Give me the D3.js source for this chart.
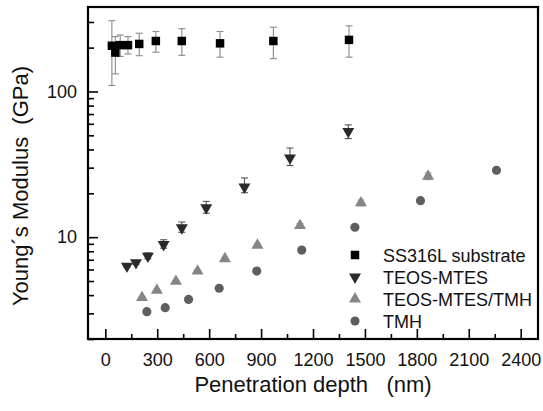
<!DOCTYPE html>
<html><head><meta charset="utf-8">
<script src="https://cdn.jsdelivr.net/npm/d3@7"></script>
<style>body{margin:0;background:#fff}svg{display:block;font-family:"Liberation Sans",Arial,sans-serif}</style>
</head><body><svg id="c" width="543" height="411"></svg>
<script>
// Data
const ssDepth = [38, 58, 86, 131, 196, 292, 442, 663, 971, 1408];
const ssMod   = [206, 185, 208, 208, 212, 222, 222, 214, 222, 226];
const ssHi    = [306, 238, 244, 238, 251, 258, 270, 258, 276, 282];
const ssLo    = [110, 132, 174, 181, 176, 186, 177, 172, 168, 172];

const tmDepth = [125, 177, 246, 337, 442, 583, 804, 1067, 1404];
const tmMod   = [6.33, 6.68, 7.41, 8.91, 11.6, 15.9, 22.1, 35.0, 53.2];
const tmHi    = [6.5, 6.9, 7.8, 9.6, 12.7, 17.6, 25.5, 40.9, 59.0];
const tmLo    = [6.2, 6.5, 7.1, 8.4, 10.8, 14.6, 20.2, 31.0, 47.5];

const ttDepth = [212, 298, 408, 533, 691, 879, 1125, 1477, 1865];
const ttMod   = [3.85, 4.32, 4.97, 5.85, 7.11, 8.81, 12.0, 17.2, 26.2];
const ttHi    = [3.9, 4.4, 5.05, 5.95, 7.25, 9.0, 12.4, 18.0, 27.6];
const ttLo    = [3.75, 4.2, 4.85, 5.7, 6.95, 8.6, 11.6, 16.4, 24.8];

const tmhDepth = [240, 346, 481, 658, 875, 1135, 1442, 1821, 2260];
const tmhMod   = [3.08, 3.28, 3.74, 4.46, 5.85, 8.15, 11.7, 17.8, 28.8];

const xTicks = [0, 300, 600, 900, 1200, 1500, 1800, 2100, 2400];
const xMinor = [150, 450, 750, 1050, 1350, 1650, 1950, 2250];
const yTicks = [10, 100];
const yMinor = [2,3,4,5,6,7,8,9,20,30,40,50,60,70,80,90,200,300];
const legendLabels = ["SS316L substrate", "TEOS-MTES", "TEOS-MTES/TMH", "TMH"];

const L = 88, T = 7, R = 538, B = 339;
const svg = d3.select("#c");
const x = d3.scaleLinear().domain([-100, 2500]).range([L, R]);
const y = d3.scaleLog().domain([2, 380]).range([B, T]);

const fmt = d => String(d);
// X axis (ticks inward)
svg.append("g").attr("transform", `translate(0,${B})`)
  .call(d3.axisTop(x).tickValues(xMinor).tickSize(5).tickFormat(""))
  .call(g => g.select(".domain").remove())
  .selectAll("line").attr("stroke", "#000").attr("stroke-width", 1.6);
const gx = svg.append("g").attr("transform", `translate(0,${B})`)
  .call(d3.axisTop(x).tickValues(xTicks).tickSize(10).tickFormat(fmt));
gx.select(".domain").remove();
gx.selectAll("line").attr("stroke", "#000").attr("stroke-width", 1.6);
gx.selectAll("text").attr("y", 27).attr("dy", 0).attr("font-size", 18)
  .attr("fill", "#111").attr("font-family", "Liberation Sans, Arial, sans-serif");

// Y axis (ticks inward)
svg.append("g").attr("transform", `translate(${L},0)`)
  .call(d3.axisRight(y).tickValues(yMinor).tickSize(6).tickFormat(""))
  .call(g => g.select(".domain").remove())
  .selectAll("line").attr("stroke", "#000").attr("stroke-width", 1.6);
const gy = svg.append("g").attr("transform", `translate(${L},0)`)
  .call(d3.axisRight(y).tickValues(yTicks).tickSize(10).tickFormat(fmt));
gy.select(".domain").remove();
gy.selectAll("line").attr("stroke", "#000").attr("stroke-width", 1.6);
gy.selectAll("text").attr("x", -11).attr("text-anchor", "end").attr("font-size", 18)
  .attr("fill", "#111").attr("font-family", "Liberation Sans, Arial, sans-serif");

// Frame
svg.append("rect").attr("x", L).attr("y", T).attr("width", R - L).attr("height", B - T)
  .attr("fill", "none").attr("stroke", "#000").attr("stroke-width", 2.2);

// Error bars
function errBars(depth, hi, lo, col) {
  const g = svg.append("g").attr("stroke", col).attr("stroke-width", 1.1).attr("fill", "none");
  depth.forEach((d, i) => {
    const cx = x(d);
    g.append("line").attr("x1", cx).attr("x2", cx).attr("y1", y(hi[i])).attr("y2", y(lo[i]));
    g.append("line").attr("x1", cx - 3.5).attr("x2", cx + 3.5).attr("y1", y(hi[i])).attr("y2", y(hi[i]));
    g.append("line").attr("x1", cx - 3.5).attr("x2", cx + 3.5).attr("y1", y(lo[i])).attr("y2", y(lo[i]));
  });
}
errBars(ssDepth, ssHi, ssLo, "#8a8a8a");
errBars(tmDepth, tmHi, tmLo, "#555");
errBars(ttDepth, ttHi, ttLo, "#aaa");

const sq = d3.symbol().type(d3.symbolSquare).size(72);
const tri = d3.symbol().type(d3.symbolTriangle).size(62);
const circ = d3.symbol().type(d3.symbolCircle).size(66);

const colSS = "#000", colTM = "#2a2a2a", colTT = "#858585", colTMH = "#5e5e5e";

function pts(depth, mod, sym, col, rot) {
  svg.append("g").selectAll("path").data(depth).join("path")
    .attr("d", sym)
    .attr("transform", (d, i) => `translate(${x(d)},${y(mod[i])})${rot ? " rotate(180)" : ""}`)
    .attr("fill", col);
}
pts(ttDepth, ttMod, tri, colTT, false);
pts(tmhDepth, tmhMod, circ, colTMH, false);
pts(tmDepth, tmMod, tri, colTM, true);
pts(ssDepth, ssMod, sq, colSS, false);

// Legend
const lg = svg.append("g");
const syms = [[sq, colSS, false], [tri, colTM, true], [tri, colTT, false], [circ, colTMH, false]];
legendLabels.forEach((t, i) => {
  const yy = 255 + i * 22;
  lg.append("path").attr("d", syms[i][0]).attr("fill", syms[i][1])
    .attr("transform", `translate(355,${yy})${syms[i][2] ? " rotate(180)" : ""}`);
  lg.append("text").attr("x", 383).attr("y", yy + 6.5).attr("font-size", 18)
    .attr("fill", "#111").text(t);
});

// Titles
svg.append("text").attr("x", 313).attr("y", 392).attr("text-anchor", "middle")
  .attr("font-size", 22).attr("fill", "#111").attr("xml:space", "preserve")
  .style("white-space", "pre").text("Penetration depth   (nm)");
svg.append("text").attr("transform", "translate(28,186) rotate(-90)").attr("text-anchor", "middle")
  .attr("font-size", 22).attr("fill", "#111").style("white-space", "pre")
  .text("Young\u00B4s Modulus  (GPa)");
</script></body></html>
